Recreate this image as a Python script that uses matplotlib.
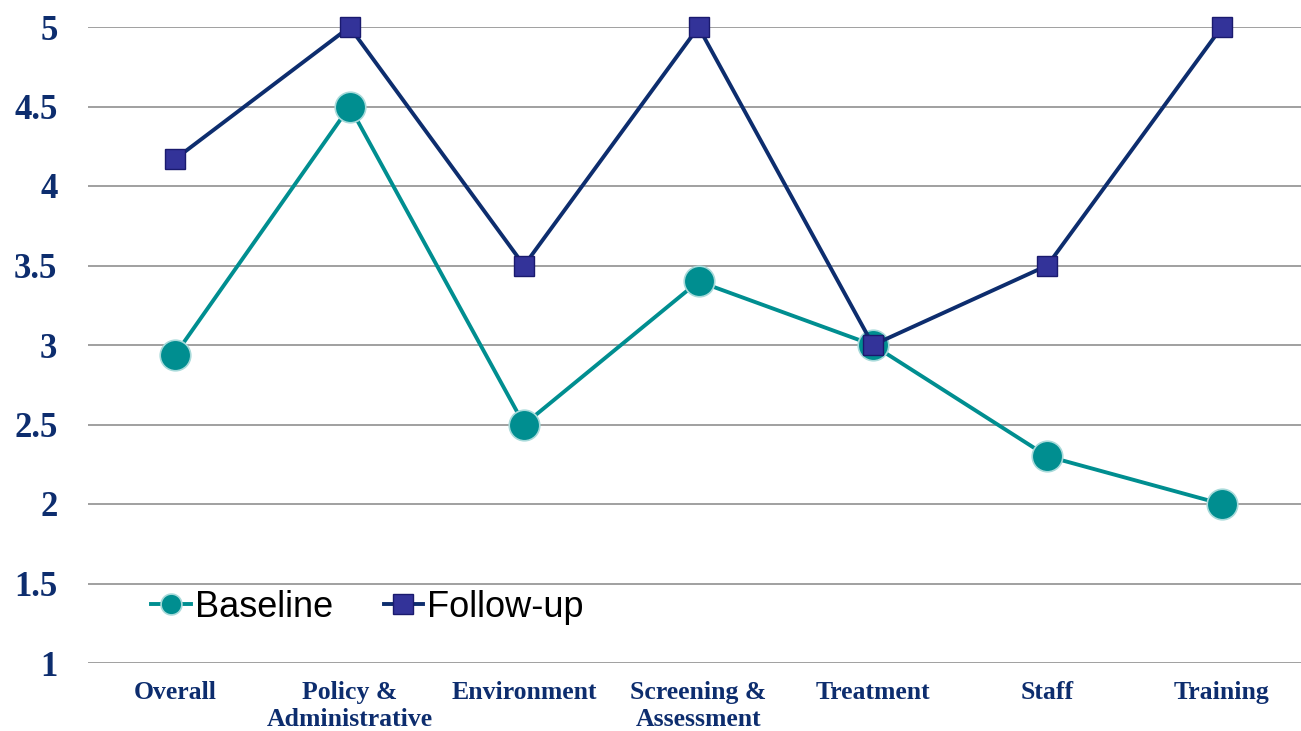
import matplotlib
matplotlib.use('Agg')
import matplotlib.pyplot as plt

categories = ['Overall', 'Policy &\nAdministrative', 'Environment', 'Screening &\nAssessment',
              'Treatment', 'Staff', 'Training']
baseline = [2.94, 4.5, 2.5, 3.4, 3.0, 2.3, 2.0]
follow_up = [4.17, 5.0, 3.5, 5.0, 3.0, 3.5, 5.0]
y_ticks = [1, 1.5, 2, 2.5, 3, 3.5, 4, 4.5, 5]

navy = '#0D2D6E'
teal = '#008E90'

my_dpi = 100
fig = plt.figure(figsize=(1301 / my_dpi, 731 / my_dpi), dpi=my_dpi)
ax = fig.add_axes([88 / 1301, 68 / 731, 1221 / 1301, 636 / 731])

x = range(len(categories))
ax.plot(x, baseline, color=teal, lw=2.8, marker='o', ms=22, mfc=teal, mec='#A8DADA', mew=1.2,
        label='Baseline', clip_on=False, zorder=3)
ax.plot(x, follow_up, color=navy, lw=2.8, marker='s', ms=15, mfc='#333399', mec='#1A1A6E', mew=1,
        label='Follow-up', clip_on=False, zorder=4)

ax.set_xlim(-0.5, len(categories) - 0.5)
ax.set_ylim(1, 5)
ax.set_yticks(y_ticks)
ax.set_yticklabels([f'{v:g}' for v in y_ticks], fontfamily='Liberation Serif', fontweight='bold',
                   fontsize=25, color=navy)
ax.set_xticks(list(x))
ax.set_xticklabels(categories, fontfamily='Liberation Serif', fontweight='bold', fontsize=18.5,
                   color=navy, linespacing=1.2, va='top')
ax.tick_params(axis='y', length=0, pad=22)
ax.tick_params(axis='x', length=0, pad=13)
ax.grid(axis='y', color='#A0A0A0', lw=1.4)
ax.set_axisbelow(True)
for s in ax.spines.values():
    s.set_visible(False)

leg = ax.legend(loc='center left', bbox_to_anchor=(0.052, 0.088), ncol=2, frameon=False,
                prop={'family': 'Liberation Sans', 'size': 26}, handlelength=1.1, handletextpad=0.1,
                columnspacing=1.4, borderpad=0, borderaxespad=0)
leg.get_lines()[0].set_markersize(15)
leg.get_lines()[1].set_markersize(14)

fig.savefig('out.png', dpi=my_dpi)
